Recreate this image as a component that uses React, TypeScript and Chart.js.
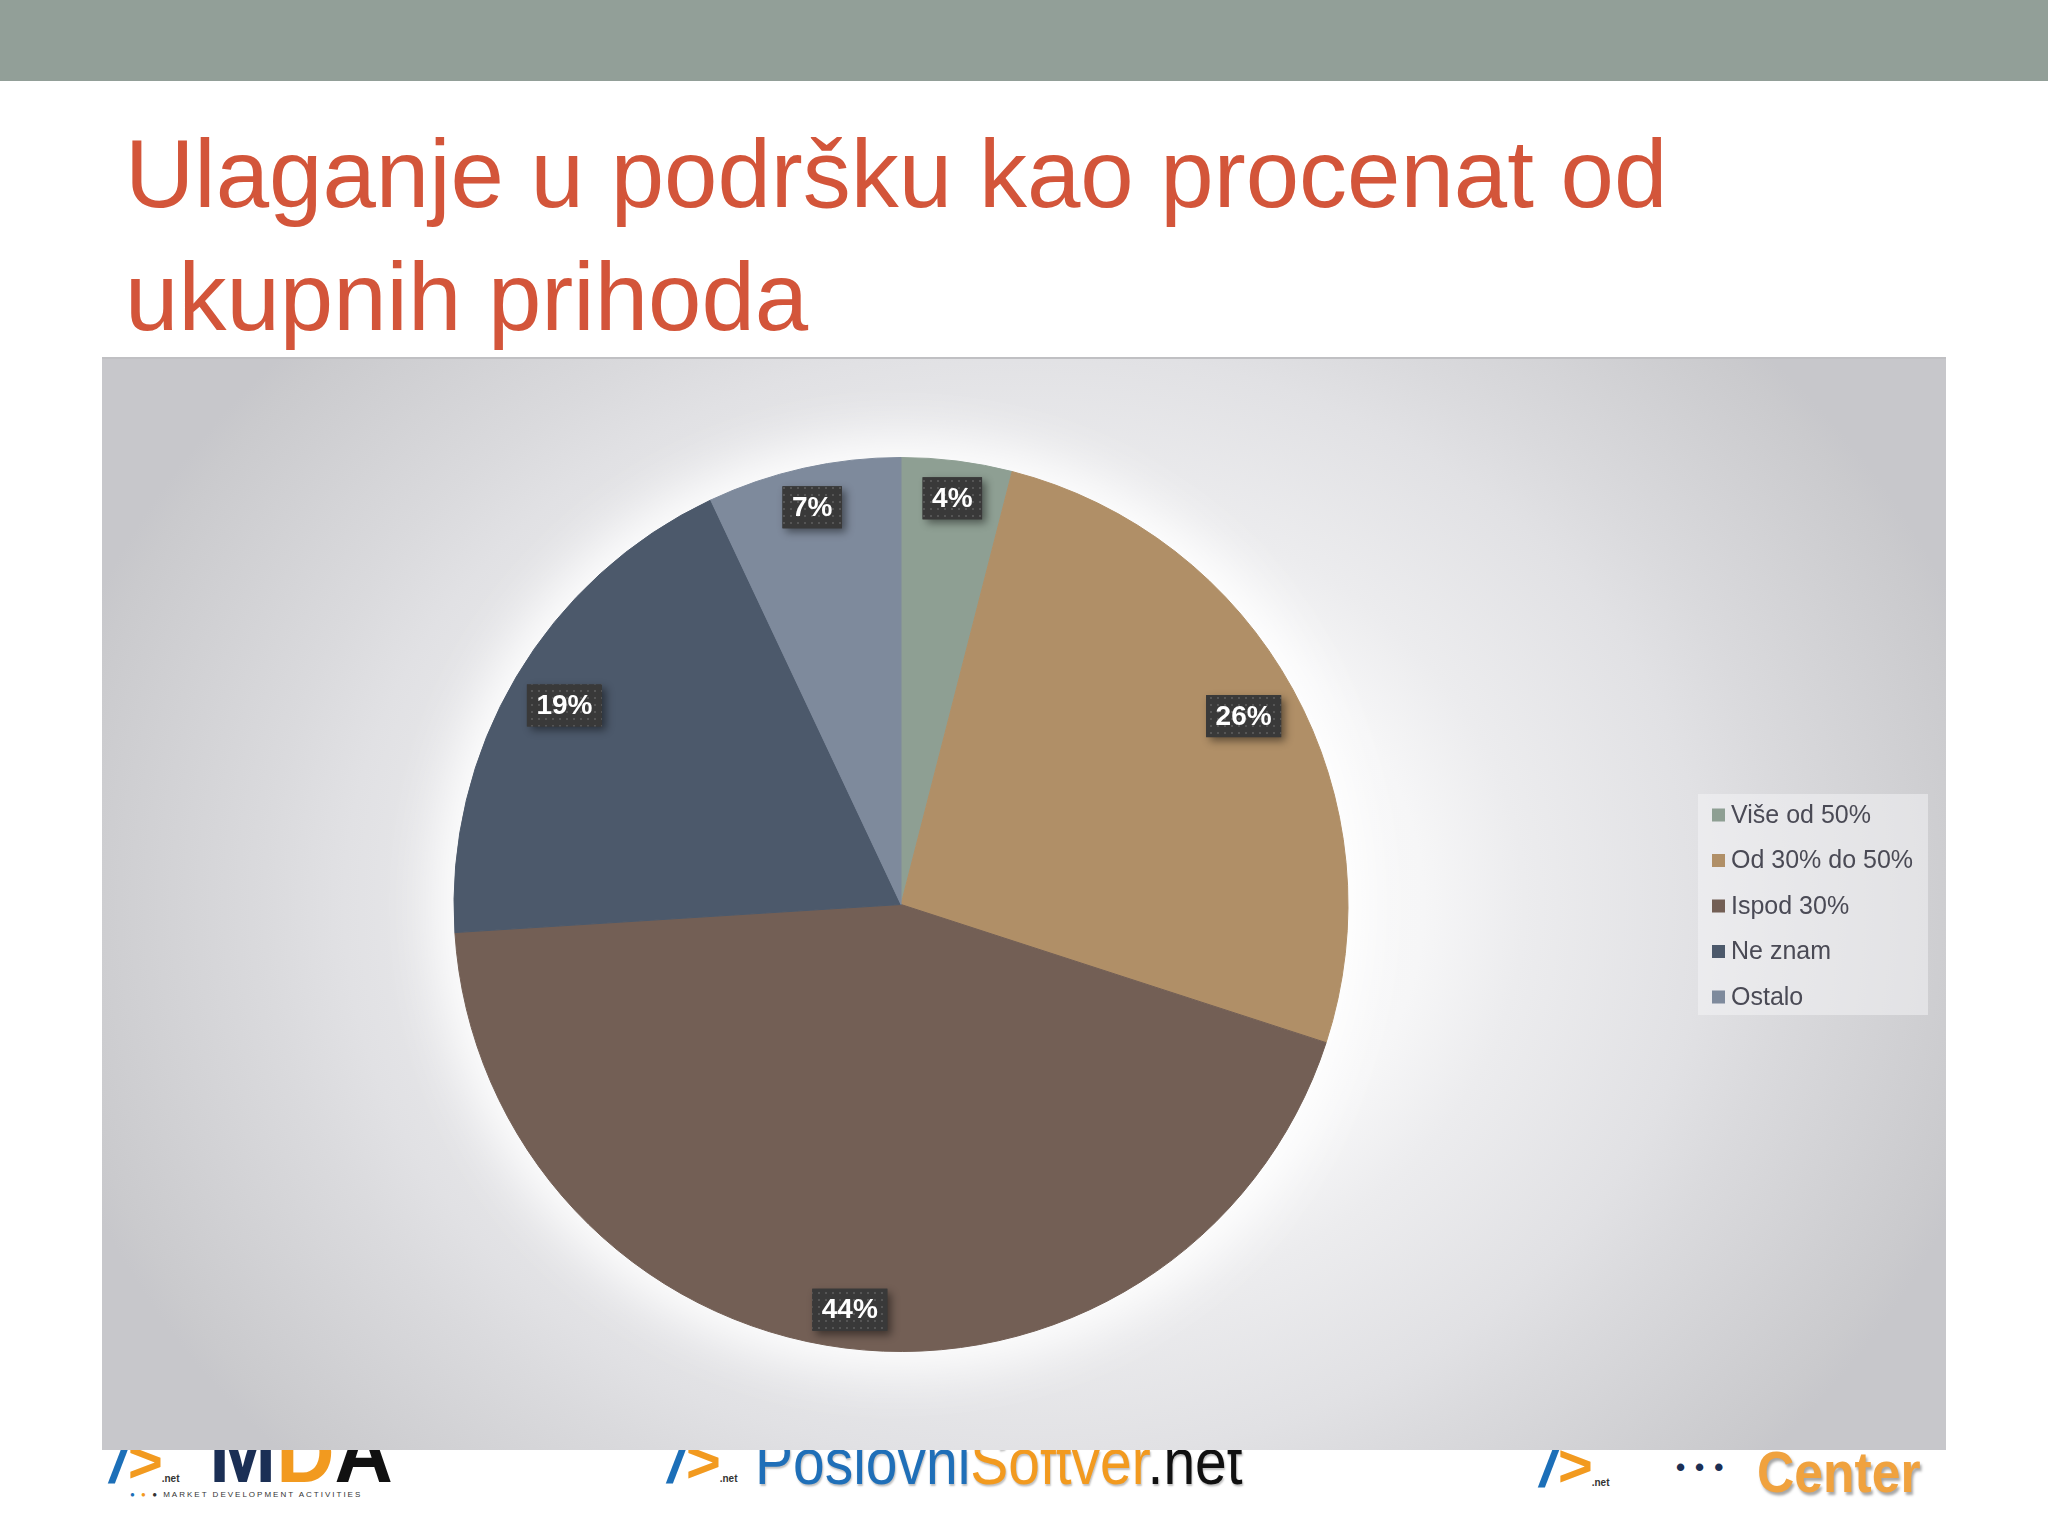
import React, { useEffect, useRef } from "react";
import { Chart, registerables } from "chart.js";

Chart.register(...registerables);

// ---- data ----
const categories = ["Više od 50%", "Od 30% do 50%", "Ispod 30%", "Ne znam", "Ostalo"];
const shares = [4, 26, 44, 19, 7];
const sliceColors = ["#8e9f93", "#b08f67", "#735f55", "#4c596b", "#7e8a9c"];
const titleLines = ["Ulaganje u podršku kao procenat od", "ukupnih prihoda"];

const FONT = "'Liberation Sans', Arial, Helvetica, sans-serif";

function makePattern(ctx: CanvasRenderingContext2D) {
  const tile = document.createElement("canvas");
  tile.width = 7;
  tile.height = 7;
  const t = tile.getContext("2d")!;
  t.fillStyle = "#393939";
  t.fillRect(0, 0, 7, 7);
  t.fillStyle = "#555555";
  t.fillRect(2, 2, 2, 2);
  return ctx.createPattern(tile, "repeat");
}

const glowPlugin = {
  id: "pieGlow",
  beforeDatasetsDraw(chart: any) {
    const arc = chart.getDatasetMeta(0).data[0];
    if (!arc) return;
    const { x, y, outerRadius } = arc.getProps(["x", "y", "outerRadius"], true);
    const ctx = chart.ctx as CanvasRenderingContext2D;
    ctx.save();
    ctx.fillStyle = "#ffffff";
    ctx.shadowColor = "rgba(255,255,255,1)";
    ctx.shadowBlur = 70;
    for (let k = 0; k < 2; k++) {
      ctx.beginPath();
      ctx.arc(x, y, outerRadius, 0, Math.PI * 2);
      ctx.fill();
    }
    ctx.restore();
  },
};

const labelPlugin = {
  id: "boxLabels",
  afterDatasetsDraw(chart: any) {
    const ctx = chart.ctx as CanvasRenderingContext2D;
    const meta = chart.getDatasetMeta(0);
    const values = chart.data.datasets[0].data as number[];
    const pattern = makePattern(ctx);
    meta.data.forEach((arc: any, i: number) => {
      const { x, y, startAngle, endAngle, outerRadius } = arc.getProps(
        ["x", "y", "startAngle", "endAngle", "outerRadius"],
        true
      );
      const mid = (startAngle + endAngle) / 2;
      const text = `${values[i]}%`;
      ctx.save();
      ctx.font = `bold 28px ${FONT}`;
      const tw = ctx.measureText(text).width;
      const w = tw + 19;
      const h = 42;
      const e = (w / 2) * Math.abs(Math.cos(mid)) + (h / 2) * Math.abs(Math.sin(mid));
      const d = outerRadius - e - 13;
      const cx = x + d * Math.cos(mid);
      const cy = y + d * Math.sin(mid);
      ctx.shadowColor = "rgba(0,0,0,0.45)";
      ctx.shadowBlur = 8;
      ctx.shadowOffsetX = 4;
      ctx.shadowOffsetY = 4;
      ctx.fillStyle = "#393939";
      ctx.fillRect(cx - w / 2, cy - h / 2, w, h);
      ctx.shadowColor = "transparent";
      ctx.fillStyle = pattern || "#393939";
      ctx.fillRect(cx - w / 2, cy - h / 2, w, h);
      ctx.fillStyle = "#ffffff";
      ctx.textAlign = "center";
      ctx.textBaseline = "middle";
      ctx.fillText(text, cx, cy + 1);
      ctx.restore();
    });
  },
};

const legendPlugin = {
  id: "sideLegend",
  afterDraw(chart: any) {
    const ctx = chart.ctx as CanvasRenderingContext2D;
    const labels = chart.data.labels as string[];
    const colors = chart.data.datasets[0].backgroundColor as string[];
    const bx = 1596;
    const by = 435;
    const bw = 230;
    const bh = 221;
    ctx.save();
    ctx.fillStyle = "rgba(245,245,247,0.5)";
    ctx.fillRect(bx, by, bw, bh);
    ctx.font = `25px ${FONT}`;
    ctx.textBaseline = "middle";
    ctx.textAlign = "left";
    labels.forEach((lab, i) => {
      const cy = by + 21 + i * 45.5;
      ctx.fillStyle = colors[i];
      ctx.fillRect(bx + 14, cy - 6.5, 13, 13);
      ctx.fillStyle = "#4a4a55";
      ctx.fillText(lab, bx + 33, cy + 1);
    });
    ctx.restore();
  },
};

function PieChart() {
  const ref = useRef<HTMLCanvasElement | null>(null);
  useEffect(() => {
    if (!ref.current) return;
    const chart = new Chart(ref.current, {
      type: "pie",
      data: {
        labels: categories,
        datasets: [
          {
            data: shares,
            backgroundColor: sliceColors,
            borderColor: sliceColors,
            borderWidth: 1,
            radius: 447,
          } as any,
        ],
      },
      options: {
        animation: false,
        responsive: true,
        maintainAspectRatio: false,
        events: [],
        layout: { padding: { right: 246 } },
        plugins: {
          legend: { display: false },
          tooltip: { enabled: false },
        },
      } as any,
      plugins: [glowPlugin, labelPlugin, legendPlugin],
    });
    return () => chart.destroy();
  }, []);
  return <canvas ref={ref} />;
}

const abs = (o: React.CSSProperties): React.CSSProperties => ({ position: "absolute", ...o });

function Swoosh({ left, top }: { left: number; top: number }) {
  return (
    <div style={abs({ left, top, fontFamily: FONT, fontWeight: "bold", fontStyle: "italic", fontSize: 60, lineHeight: 1, whiteSpace: "nowrap" })}>
      <span style={{ color: "#1c6fb8" }}>/</span>
      <span style={{ color: "#f29a1f" }}>&gt;</span>
      <span style={{ color: "#333", fontSize: 10, fontStyle: "normal" }}>.net</span>
    </div>
  );
}

const narrow = (o: React.CSSProperties): React.CSSProperties =>
  abs({ transform: "scaleX(0.89)", transformOrigin: "left top", whiteSpace: "nowrap", lineHeight: 1, ...o });

export default function App() {
  return (
    <div style={abs({ left: 0, top: 0, width: 2048, height: 1536, background: "#ffffff", overflow: "hidden" })}>
      <div style={abs({ left: 0, top: 0, width: 2048, height: 81, background: "#929f98" })} />
      <div
        style={abs({
          left: 125,
          top: 112,
          fontFamily: FONT,
          fontSize: 96,
          lineHeight: "123px",
          color: "#d3553a",
          whiteSpace: "nowrap",
        })}
      >
        {titleLines.map((l, i) => (
          <div key={i}>{l}</div>
        ))}
      </div>

      {/* logos partially hidden behind the chart */}
      <Swoosh left={110} top={1432} />
      <div style={narrow({ left: 209, top: 1410, fontFamily: FONT, fontWeight: "bold", fontSize: 85, transform: "scaleX(0.95)" })}>
        <span style={{ color: "#1b2f55" }}>M</span>
        <span style={{ color: "#f29a1f" }}>D</span>
        <span style={{ color: "#111" }}>A</span>
      </div>
      <div style={abs({ left: 130, top: 1490, fontFamily: FONT, fontSize: 8, letterSpacing: 2, color: "#333", whiteSpace: "nowrap" })}>
        <span style={{ color: "#1c6fb8" }}>●</span> <span style={{ color: "#f29a1f" }}>●</span> ● MARKET DEVELOPMENT ACTIVITIES
      </div>
      <Swoosh left={668} top={1432} />
      <div style={narrow({ left: 755, top: 1430, fontFamily: FONT, fontSize: 64, textShadow: "1px 2px 2px rgba(0,0,0,0.25)" })}>
        <span style={{ color: "#1f6fb8" }}>Poslovni</span>
        <span style={{ color: "#f29a1f" }}>Softver</span>
        <span style={{ color: "#111" }}>.net</span>
      </div>
      <Swoosh left={1540} top={1436} />
      <div style={abs({ left: 1676, top: 1452, fontFamily: FONT, fontWeight: "bold", fontSize: 26, letterSpacing: 10, color: "#1b2f55", whiteSpace: "nowrap" })}>•••</div>
      <div style={narrow({ left: 1757, top: 1443, fontFamily: FONT, fontWeight: "bold", fontSize: 58, color: "#f0a23e", textShadow: "2px 3px 3px rgba(0,0,0,0.35)" })}>
        Center
      </div>

      {/* chart box */}
      <div
        style={abs({
          left: 102,
          top: 357,
          width: 1844,
          height: 1093,
          borderTop: "2px solid #c0c0c3",
          boxSizing: "border-box",
          background:
            "radial-gradient(1000px 820px at 50% 50%, #ffffff 0%, #f6f6f7 40%, #ececee 50%, #e1e1e4 68%, #dadadd 76%, #cacacd 97%, #c7c7cb 100%)",
        })}
      >
        <div style={abs({ left: 0, top: 0, width: 1844, height: 1091 })}>
          <PieChart />
        </div>
      </div>
    </div>
  );
}
